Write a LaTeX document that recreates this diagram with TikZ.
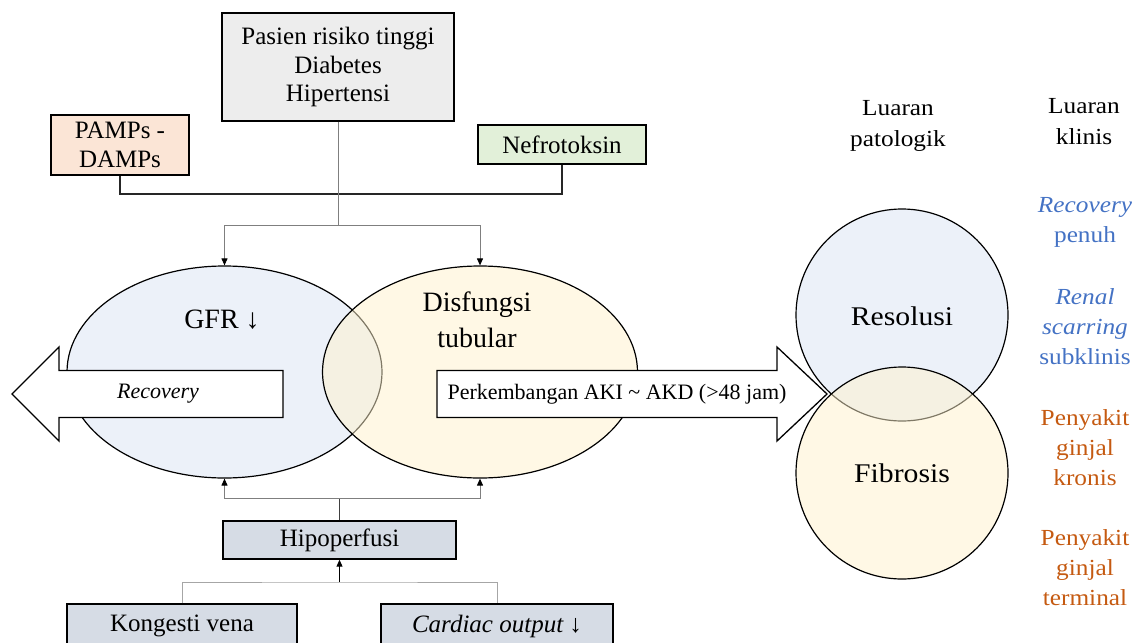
\documentclass[tikz,border=0pt]{standalone}
\usepackage{fontspec}
\setmainfont{Liberation Serif}
\newfontfamily\widefont[FakeStretch=1.1]{Liberation Serif}
\usetikzlibrary{shapes.geometric,arrows.meta}

\definecolor{greyfill}{HTML}{EDEDED}
\definecolor{peach}{HTML}{FBE5D6}
\definecolor{mint}{HTML}{E2F0D9}
\definecolor{slate}{HTML}{D6DCE5}
\definecolor{paleblue}{HTML}{DAE3F3}
\definecolor{paleyellow}{HTML}{FFF2CC}
\definecolor{clinblue}{HTML}{4472C4}
\definecolor{clinorange}{HTML}{C55A11}

\begin{document}
\begin{tikzpicture}[x=1pt,y=-1pt,
  box/.style={draw=black, line width=1.4pt, inner sep=0pt, align=center,
    font=\fontsize{25}{28.5}\selectfont},
  blob/.style={ellipse, draw=black, line width=1.2pt, inner sep=0pt, fill opacity=.5},
  bigarrow/.style={draw=black, fill=white, line width=1.3pt, line join=miter},
  tip/.style={-{Triangle[length=7pt,width=6pt,color=black]}},
  joinline/.style={draw={rgb,255:red,38;green,38;blue,38}, line width=1.5pt},
  greyline/.style={draw={rgb,255:red,127;green,127;blue,127}, line width=1pt},
  darkline/.style={draw={rgb,255:red,64;green,64;blue,64}, line width=1pt},
  paleline/.style={draw={rgb,255:red,166;green,166;blue,166}, line width=1pt},
  blackline/.style={draw=black, line width=1pt},
  inlabel/.style={inner sep=0pt, align=center, font=\fontsize{28}{36}\selectfont},
  patho/.style={inner sep=0pt, align=center, font=\widefont\fontsize{27}{32}\selectfont},
  head/.style={inner sep=0pt, align=center, font=\widefont\fontsize{23}{31}\selectfont},
  clin/.style={inner sep=0pt, align=center, font=\widefont\fontsize{23}{30}\selectfont}]

\useasboundingbox (0,0) rectangle (1139,642);
\clip (0,0) rectangle (1139,642);

% risk factors
\node[box, fill=greyfill, minimum width=232pt, minimum height=108pt] (risk) at (338,67)
  {Pasien risiko tinggi\\Diabetes\\Hipertensi};
\node[box, fill=peach, minimum width=138pt, minimum height=60pt] (pamps) at (120,145)
  {PAMPs -\\DAMPs};
\node[box, fill=mint, minimum width=168pt, minimum height=39pt] (nefro) at (562,144.5)
  {Nefrotoksin};

% haemodynamic causes
\node[box, fill=slate, minimum width=233pt, minimum height=38pt] (hipo) at (339.5,540)
  {Hipoperfusi};
\node[box, fill=slate, minimum width=230pt, minimum height=44pt] (kong) at (182,626)
  {Kongesti vena};
\node[box, fill=slate, minimum width=232pt, minimum height=44pt] (card) at (497,626)
  {\itshape Cardiac output \upshape↓};

% overlapping injury ellipses
\node[blob, fill=paleblue, minimum width=315pt, minimum height=212pt] (gfr) at (224.5,372) {};
\node[blob, fill=paleyellow, minimum width=315pt, minimum height=212pt] (tub) at (480,372) {};
\node[inlabel] (gfrlbl) at (222,320) {GFR ↓};
\node[inlabel] (tublbl) at (477,320) {Disfungsi\\tubular};

% block arrows
\draw[bigarrow] (283,370.5) -- (59,370.5) -- (59,347) -- (12,394) -- (59,441)
  -- (59,417.5) -- (283,417.5) -- cycle;
\node[inner sep=0pt, font=\fontsize{22}{26}\selectfont\itshape] (rec) at (158,394) {Recovery};
\draw[bigarrow] (437,370.5) -- (777,370.5) -- (777,347) -- (827,394) -- (777,441)
  -- (777,417.5) -- (437,417.5) -- cycle;
\node[inner sep=0pt, font=\fontsize{22}{26}\selectfont] (aki) at (617,394)
  {Perkembangan AKI \textasciitilde{} AKD (>48 jam)};

% pathological outcomes
\node[blob, fill=paleblue, minimum width=212pt, minimum height=212pt] (res) at (902,315) {};
\node[blob, fill=paleyellow, minimum width=212pt, minimum height=212pt] (fib) at (902,473) {};
\node[patho] (reslbl) at (902,316) {Resolusi};
\node[patho] (fiblbl) at (902,473) {Fibrosis};

% column headings
\node[head] (hpat) at (898,126) {Luaran\\patologik};
\node[head] (hkli) at (1084,122) {Luaran\\klinis};

% clinical outcomes
\node[clin, text=clinblue] (c1) at (1085,222) {\itshape Recovery\\penuh};
\node[clin, text=clinblue] (c2) at (1085,327) {\itshape Renal\\\itshape scarring\\subklinis};
\node[clin, text=clinorange] (c3) at (1085,448) {Penyakit\\ginjal\\kronis};
\node[clin, text=clinorange] (c4) at (1085,568) {Penyakit\\ginjal\\terminal};

% connectors from the risk factors
\coordinate (j1) at (338,194);
\coordinate (j2) at (338,225);
\draw[joinline] (pamps.south) |- (j1) -| (nefro.south);
\draw[greyline] (risk.south) -- (j2);
\draw[greyline, tip] (j2) -| (gfr.north);
\draw[greyline, tip] (j2) -| (tub.north);

% connectors from the haemodynamic causes
\coordinate (j3) at (339.5,498);
\coordinate (j4) at (339.5,582);
\draw[darkline] (hipo.north) -- (j3);
\draw[greyline, tip] (j3) -| (gfr.south);
\draw[greyline, tip] (j3) -| (tub.south);
\draw[paleline] (kong.north) |- (j4) -| (card.north);
\draw[blackline, tip] (j4) -- (hipo.south);
\end{tikzpicture}
\end{document}
